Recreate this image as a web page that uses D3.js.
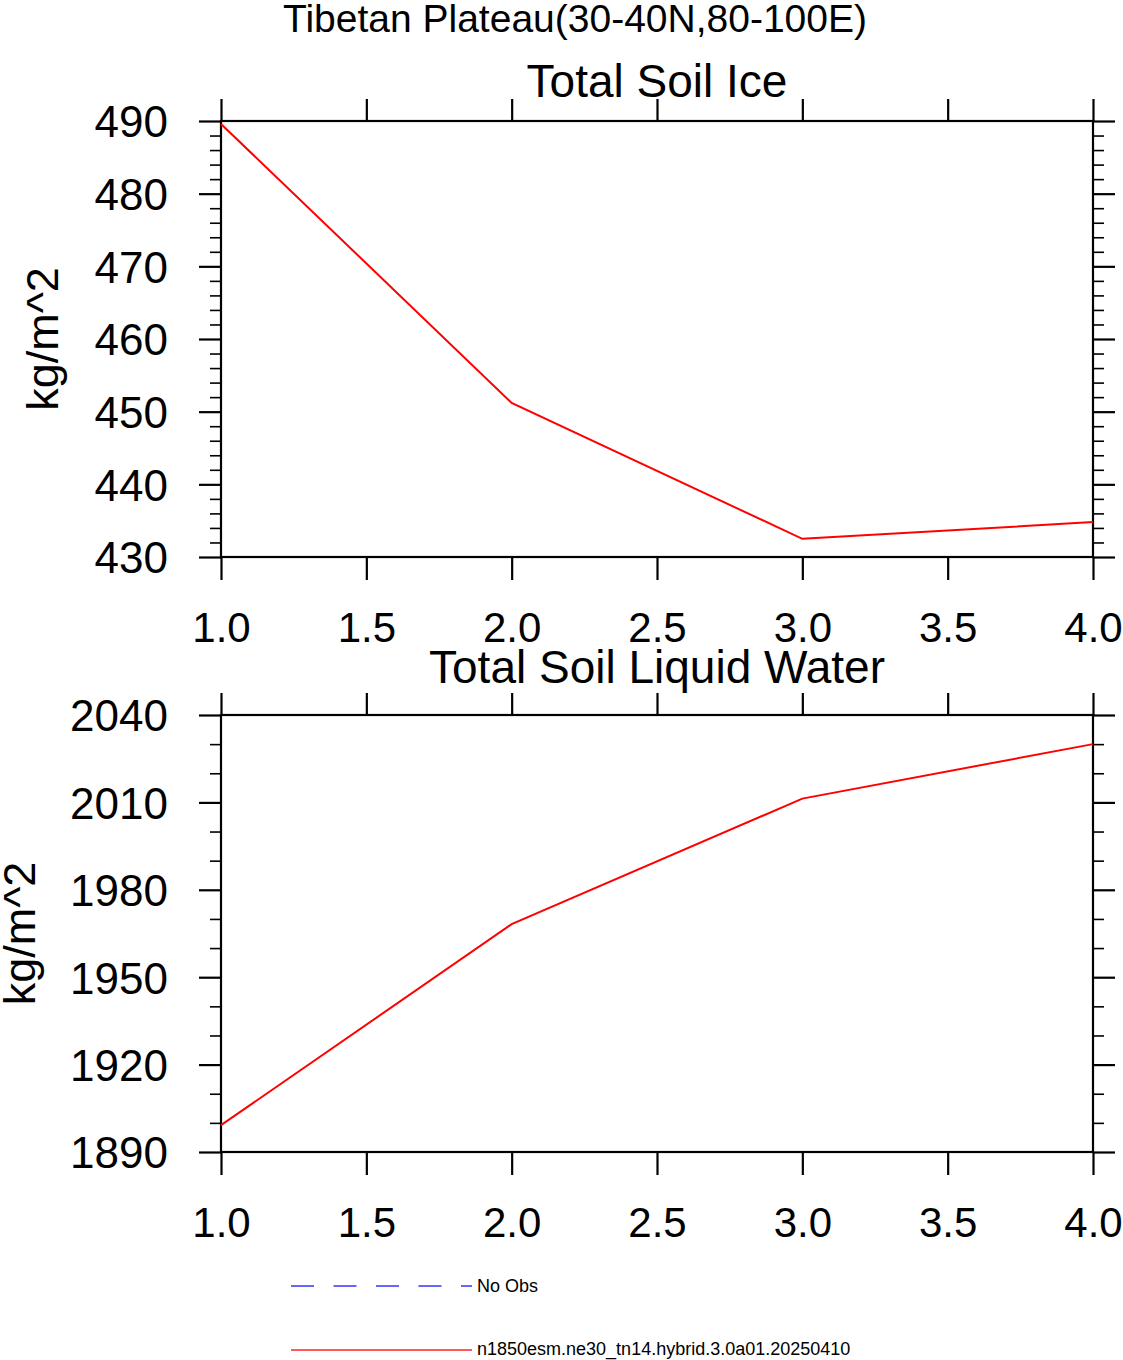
<!DOCTYPE html>
<html>
<head>
<meta charset="utf-8">
<script src="https://cdn.jsdelivr.net/npm/d3@7/dist/d3.min.js"></script>
<style>
  html, body { margin: 0; padding: 0; background: #fff; }
  svg text { font-family: "Liberation Sans", Arial, Helvetica, sans-serif; fill: #000; }
</style>
</head>
<body>
<div id="chart"></div>
<script>
// ---- data ----
const mainTitle = "Tibetan Plateau(30-40N,80-100E)";
const xValues = [1, 2, 3, 4];
const xTicks = [1.0, 1.5, 2.0, 2.5, 3.0, 3.5, 4.0];

const iceTitle = "Total Soil Ice";
const iceValues = [489.6, 451.2, 432.5, 434.8];
const iceTicks = [430, 440, 450, 460, 470, 480, 490];

const liqTitle = "Total Soil Liquid Water";
const liqValues = [1899.2, 1968.2, 2011.3, 2030.0];
const liqTicks = [1890, 1920, 1950, 1980, 2010, 2040];

const unitsLabel = "kg/m^2";
const legendLabels = ["No Obs", "n1850esm.ne30_tn14.hybrid.3.0a01.20250410"];

// ---- layout ----
const W = 1123, H = 1360;
const svg = d3.select("#chart").append("svg")
    .attr("width", W).attr("height", H)
    .attr("viewBox", `0 0 ${W} ${H}`);

svg.append("text")
    .attr("x", 575).attr("y", 32)
    .attr("text-anchor", "middle")
    .style("font-size", "39px")
    .text(mainTitle);

const x = d3.scaleLinear().domain([1, 4]).range([221, 1093]);

function panel(top, bottom, title, titleY, values, yTicks, minorStep, labelX) {
    const y = d3.scaleLinear().domain([yTicks[0], yTicks[yTicks.length - 1]]).range([bottom, top]);
    const minors = d3.range(yTicks[0], yTicks[yTicks.length - 1] + 1e-9, minorStep)
        .filter(v => !yTicks.includes(v));
    const g = svg.append("g");

    // minor ticks (left + right)
    g.append("g").attr("transform", `translate(221,0)`)
        .call(d3.axisLeft(y).tickValues(minors).tickSize(11).tickSizeOuter(0).tickFormat(""))
        .call(a => a.select(".domain").remove())
        .selectAll("line").attr("stroke-width", 1.6);
    g.append("g").attr("transform", `translate(1093,0)`)
        .call(d3.axisRight(y).tickValues(minors).tickSize(11).tickSizeOuter(0).tickFormat(""))
        .call(a => a.select(".domain").remove())
        .selectAll("line").attr("stroke-width", 1.6);

    // major y ticks with labels on the left
    const left = g.append("g").attr("transform", `translate(221,0)`)
        .call(d3.axisLeft(y).tickValues(yTicks).tickSize(22).tickSizeOuter(0).tickPadding(31).tickFormat(d3.format("d")))
        .call(a => a.select(".domain").remove());
    left.selectAll("line").attr("stroke-width", 2.2);
    left.selectAll("text").style("font-size", "44px").attr("dy", "0.36em");

    g.append("g").attr("transform", `translate(1093,0)`)
        .call(d3.axisRight(y).tickValues(yTicks).tickSize(22).tickSizeOuter(0).tickFormat(""))
        .call(a => a.select(".domain").remove())
        .selectAll("line").attr("stroke-width", 2.2);

    // x ticks top and bottom
    g.append("g").attr("transform", `translate(0,${top})`)
        .call(d3.axisTop(x).tickValues(xTicks).tickSize(22).tickSizeOuter(0).tickFormat(""))
        .call(a => a.select(".domain").remove())
        .selectAll("line").attr("stroke-width", 2.2);
    const bot = g.append("g").attr("transform", `translate(0,${bottom})`)
        .call(d3.axisBottom(x).tickValues(xTicks).tickSize(23).tickSizeOuter(0).tickPadding(32).tickFormat(d3.format(".1f")))
        .call(a => a.select(".domain").remove());
    bot.selectAll("line").attr("stroke-width", 2.2);
    bot.selectAll("text").style("font-size", "42px").attr("dy", "0.71em");

    svg.selectAll(".tick line").attr("stroke", "#000");
    svg.selectAll(".tick text").attr("fill", "#000").attr("font-family", null);

    // frame
    g.append("rect")
        .attr("x", 221).attr("y", top)
        .attr("width", 1093 - 221).attr("height", bottom - top)
        .attr("fill", "none").attr("stroke", "#000").attr("stroke-width", 2.2);

    // data line
    const line = d3.line().x((d, i) => x(xValues[i])).y(d => y(d));
    g.append("path")
        .datum(values)
        .attr("d", line)
        .attr("fill", "none")
        .attr("stroke", "#ff0000")
        .attr("stroke-width", 2);

    // titles
    g.append("text")
        .attr("x", 657).attr("y", titleY)
        .attr("text-anchor", "middle")
        .style("font-size", "46px")
        .text(title);
    g.append("text")
        .attr("transform", `translate(${labelX},${(top + bottom) / 2}) rotate(-90)`)
        .attr("text-anchor", "middle")
        .style("font-size", "45px")
        .text(unitsLabel);
}

panel(121, 557, iceTitle, 97, iceValues, iceTicks, 2, 58);
panel(715, 1152, liqTitle, 683, liqValues, liqTicks, 10, 35);

// ---- legend ----
const legend = svg.append("g");
legend.append("line")
    .attr("x1", 291).attr("x2", 472).attr("y1", 1286).attr("y2", 1286)
    .attr("stroke", "#3333ff").attr("stroke-width", 1.3)
    .attr("stroke-dasharray", "23,19.5");
legend.append("text")
    .attr("x", 477).attr("y", 1292)
    .style("font-size", "18px")
    .text(legendLabels[0]);
legend.append("line")
    .attr("x1", 291).attr("x2", 472).attr("y1", 1350).attr("y2", 1350)
    .attr("stroke", "#ff2222").attr("stroke-width", 1.3);
legend.append("text")
    .attr("x", 477).attr("y", 1355)
    .style("font-size", "18px")
    .text(legendLabels[1]);
</script>
</body>
</html>
